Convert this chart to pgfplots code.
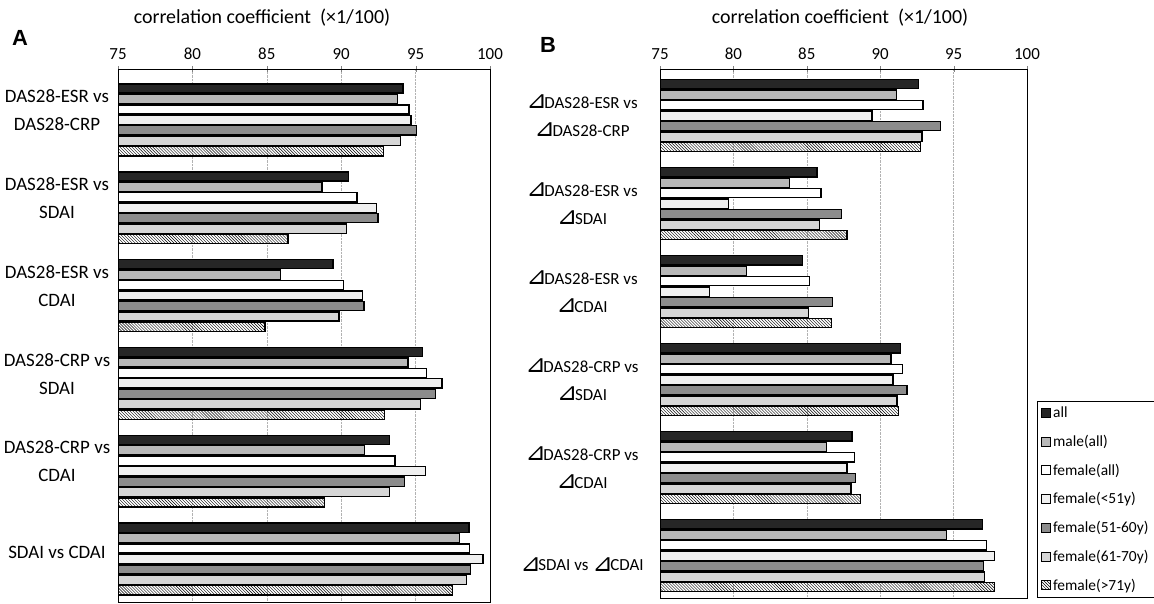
\documentclass[border=0pt]{standalone}
\usepackage{fontspec}
\setmainfont{Carlito}
\newfontfamily\dejavu{DejaVu Sans}
\newfontfamily\arial{Liberation Sans}
\usepackage{pgfplots}
\pgfplotsset{compat=1.18}
\usetikzlibrary{patterns}
\newcommand{\tri}{\raisebox{-0.5bp}{\scalebox{1.45}{\dejavu ⊿}}\kern-2.5bp}
\pgfplotsset{
  sAll/.style={draw=black, fill=black!85},
  sMale/.style={draw=black, fill=black!28},
  sFem/.style={draw=black, fill=white},
  sF51/.style={draw=black, fill=black!6},
  sF5160/.style={draw=black, fill=black!45},
  sF6170/.style={draw=black, fill=black!16},
  sF71/.style={draw=black, pattern=north west lines},
  panel/.style={
    scale only axis, xbar, xmin=75, xmax=100, y dir=reverse,
    xtick={75,80,...,100}, xtick pos=upper, xticklabel pos=upper,
    tick align=center, major tick length=6bp,
    ytick style={draw=none},
    xmajorgrids, grid style={densely dotted, black!30},
    bar width=0.104,
    /pgf/number format/assume math mode=true,
    xticklabel style={font=\fontsize{17}{17}\selectfont, yshift=3bp},
    yticklabel style={align=center, anchor=center, font=\fontsize{19}{28}\selectfont},
    axis line style={line width=0.8bp},
    every axis plot/.append style={line width=1.35bp},
    legend image code/.code={\draw[#1, line width=0.9bp] (0bp,-4.5bp) rectangle (9bp,4.5bp);},
  }
}
\begin{document}
\begin{tikzpicture}
\useasboundingbox (0,0) rectangle (1154bp,-604bp);
\node[font=\arial\bfseries\fontsize{22}{22}\selectfont] at (20bp,-38bp) {A};
\node[font=\arial\bfseries\fontsize{22}{22}\selectfont] at (548bp,-45bp) {B};
\node[font=\fontsize{20}{20}\selectfont] at (262bp,-18bp) {correlation coefficient\ \ (×1/100)};
\node[font=\fontsize{20}{20}\selectfont] at (840bp,-18bp) {correlation coefficient\ \ (×1/100)};

% Panel A
\begin{axis}[panel, at={(118bp,-69bp)}, anchor=north west,
  width=372bp, height=533bp, ymin=-0.58, ymax=5.49,
  ytick={-0.11,0.89,1.89,2.89,3.89,4.92},
  yticklabels={{DAS28-ESR vs\\DAS28-CRP},{DAS28-ESR vs\\SDAI},{DAS28-ESR vs\\CDAI},{DAS28-CRP vs\\SDAI},{DAS28-CRP vs\\CDAI},{SDAI vs CDAI}},
  yticklabel style={xshift=-58bp}]
\addplot[sAll, bar shift=-0.357] coordinates {(94.15,0) (90.5,1) (89.45,2) (95.45,3) (93.26,4) (98.58,5)};
\addplot[sMale, bar shift=-0.238] coordinates {(93.8,0) (88.7,1) (85.9,2) (94.49,3) (91.58,4) (97.95,5)};
\addplot[sFem, bar shift=-0.119] coordinates {(94.55,0) (91.06,1) (90.17,2) (95.72,3) (93.61,4) (98.62,5)};
\addplot[sF51, bar shift=0] coordinates {(94.7,0) (92.36,1) (91.42,2) (96.77,3) (95.67,4) (99.52,5)};
\addplot[sF5160, bar shift=0.119] coordinates {(95.05,0) (92.47,1) (91.53,2) (96.34,3) (94.26,4) (98.67,5)};
\addplot[sF6170, bar shift=0.238] coordinates {(94.0,0) (90.35,1) (89.85,2) (95.31,3) (93.26,4) (98.4,5)};
\addplot[sF71, bar shift=0.357] coordinates {(92.85,0) (86.43,1) (84.87,2) (92.9,3) (88.89,4) (97.46,5)};
\end{axis}

% Panel B
\begin{axis}[panel, at={(660bp,-69bp)}, anchor=north west,
  width=367bp, height=529bp, ymin=-0.53, ymax=5.48,
  ytick={0,1,2,3,4,5.1},
  yticklabels={{\tri DAS28-ESR vs\\\tri DAS28-CRP},{\tri DAS28-ESR vs\\\tri SDAI},{\tri DAS28-ESR vs\\\tri CDAI},{\tri DAS28-CRP vs\\\tri SDAI},{\tri DAS28-CRP vs\\\tri CDAI},{\tri SDAI vs \tri CDAI}},
  yticklabel style={xshift=-75bp, font=\fontsize{17}{28}\selectfont},
  legend style={at={(1.027,0)}, anchor=south west, draw=black, line width=0.6bp,
    font=\fontsize{15.5}{15.5}\selectfont, row sep=12bp, inner sep=4bp},
  legend cell align=left]
\addplot[sAll, bar shift=-0.357] coordinates {(92.62,0) (85.69,1) (84.71,2) (91.37,3) (88.07,4) (96.96,5)};
\addplot[sMale, bar shift=-0.238] coordinates {(91.1,0) (83.82,1) (80.87,2) (90.74,3) (86.32,4) (94.51,5)};
\addplot[sFem, bar shift=-0.119] coordinates {(92.92,0) (85.96,1) (85.19,2) (91.53,3) (88.23,4) (97.24,5)};
\addplot[sF51, bar shift=0] coordinates {(89.44,0) (79.66,1) (78.37,2) (90.87,3) (87.73,4) (97.78,5)};
\addplot[sF5160, bar shift=0.119] coordinates {(94.1,0) (87.35,1) (86.73,2) (91.83,3) (88.3,4) (97.05,5)};
\addplot[sF6170, bar shift=0.238] coordinates {(92.85,0) (85.87,1) (85.12,2) (91.15,3) (88.0,4) (97.12,5)};
\addplot[sF71, bar shift=0.357] coordinates {(92.74,0) (87.73,1) (86.66,2) (91.26,3) (88.64,4) (97.78,5)};
\legend{all, male(all), female(all), female(<51y), female(51-60y), female(61-70y), female(>71y)}
\end{axis}
\end{tikzpicture}
\end{document}
